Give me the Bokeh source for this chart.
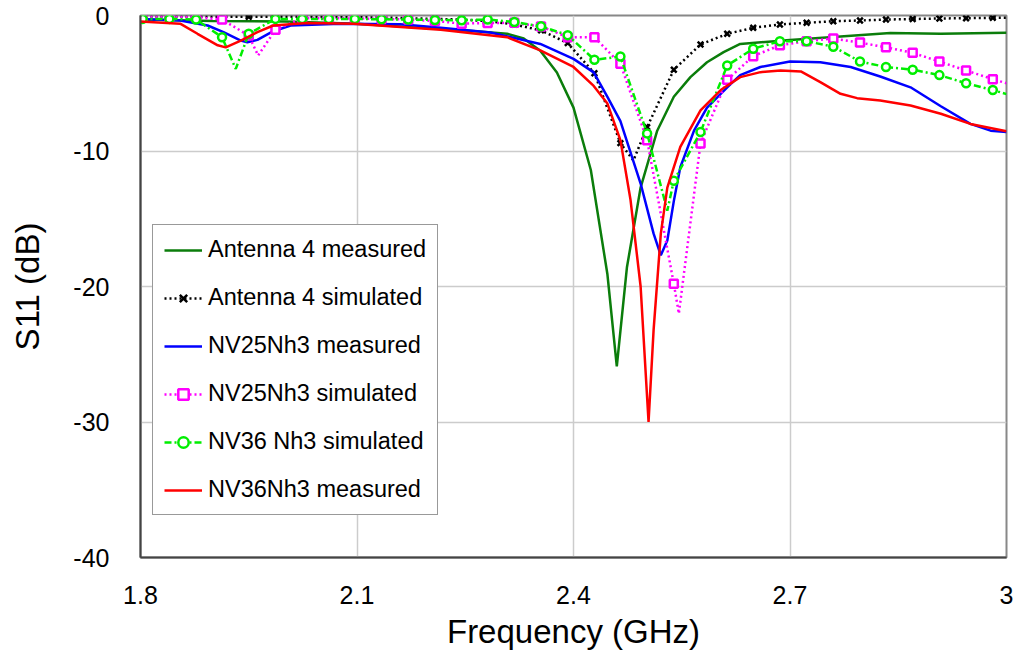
from bokeh.plotting import figure
from bokeh.models import Range1d, FixedTicker, Legend, LegendItem, CustomJSTickFormatter
from bokeh.embed import file_html
from bokeh.resources import INLINE

# ---------------- data ----------------
x_ticks = [1.8, 2.1, 2.4, 2.7, 3.0]
y_ticks = [-40, -30, -20, -10, 0]

series_names = ["Antenna 4 measured", "Antenna 4 simulated", "NV25Nh3 measured",
                "NV25Nh3 simulated", "NV36 Nh3 simulated", "NV36Nh3 measured"]

# measured curves
ant4_meas_freq = [1.80, 1.90, 2.00, 2.10, 2.20, 2.26, 2.308, 2.331, 2.354, 2.377, 2.400, 2.424,
                  2.447, 2.460, 2.474, 2.493, 2.516, 2.539, 2.562, 2.585, 2.608, 2.631, 2.700,
                  2.770, 2.839, 2.909, 3.000]
ant4_meas_db = [-0.3, -0.4, -0.45, -0.6, -0.95, -1.15, -1.35, -1.7, -2.6, -4.2, -6.8, -11.4,
                -19.1, -25.9, -18.6, -12.7, -8.5, -6.0, -4.55, -3.45, -2.7, -2.1, -1.8,
                -1.55, -1.3, -1.35, -1.28]

nv25_meas_freq = [1.80, 1.855, 1.893, 1.915, 1.939, 1.948, 1.962, 1.984, 2.008, 2.077,
                  2.16, 2.216, 2.285, 2.354, 2.40, 2.428, 2.447, 2.465, 2.493, 2.511,
                  2.521, 2.530, 2.539, 2.548, 2.567, 2.585, 2.613, 2.631, 2.659, 2.700,
                  2.742, 2.784, 2.825, 2.867, 2.909, 2.950, 2.978, 3.000]
nv25_meas_db = [-0.25, -0.37, -0.74, -1.23, -1.85, -1.97, -1.8, -1.16, -0.74, -0.6,
                -0.65, -0.9, -1.25, -2.1, -3.2, -4.2, -6.0, -7.8, -12.4, -16.1,
                -17.7, -16.6, -13.7, -11.2, -8.5, -6.8, -5.3, -4.4, -3.8, -3.4,
                -3.45, -3.8, -4.5, -5.3, -6.7, -8.0, -8.5, -8.6]

nv36_meas_freq = [1.80, 1.855, 1.879, 1.907, 1.918, 1.939, 1.962, 1.984, 2.031, 2.095,
                  2.216, 2.308, 2.354, 2.400, 2.428, 2.447, 2.465, 2.479, 2.493, 2.504,
                  2.511, 2.521, 2.530, 2.548, 2.576, 2.604, 2.631, 2.659, 2.687, 2.715,
                  2.742, 2.770, 2.793, 2.825, 2.867, 2.909, 2.950, 3.000]
nv36_meas_db = [-0.45, -0.6, -1.35, -2.2, -2.35, -1.85, -1.23, -0.74, -0.55, -0.6,
                -1.06, -1.6, -2.58, -3.8, -5.2, -6.5, -9.2, -13.6, -20.0, -30.0,
                -23.2, -16.1, -12.7, -9.7, -7.0, -5.5, -4.55, -4.18, -4.06, -4.13,
                -4.92, -5.78, -6.1, -6.27, -6.64, -7.25, -8.0, -8.54]

# simulated curves: values at marker frequencies + extra line-only points
sim_freq = [1.803, 1.840, 1.877, 1.913, 1.950, 1.987, 2.024, 2.061, 2.097, 2.134, 2.171,
            2.208, 2.245, 2.281, 2.318, 2.355, 2.392, 2.429, 2.465, 2.502, 2.539, 2.576,
            2.613, 2.649, 2.686, 2.723, 2.760, 2.797, 2.833, 2.870, 2.907, 2.944, 2.981]

ant4_sim_db = [-0.1, -0.1, -0.1, -0.1, -0.1, -0.1, -0.1, -0.12, -0.13, -0.15, -0.2,
               -0.25, -0.3, -0.42, -0.66, -1.1, -2.04, -4.26, -9.42, -8.24, -4.0, -2.14,
               -1.35, -0.91, -0.66, -0.54, -0.42, -0.37, -0.3, -0.26, -0.22, -0.2, -0.17]
ant4_sim_extra_freq = [1.80, 2.483, 3.0]
ant4_sim_extra_db = [-0.1, -10.7, -0.17]

nv25_sim_db = [-0.1, -0.1, -0.12, -0.3, -1.48, -1.06, -0.2, -0.2, -0.22, -0.25, -0.3,
               -0.4, -0.6, -0.55, -0.54, -0.81, -1.6, -1.6, -3.57, -9.2, -19.8, -9.45,
               -4.75, -3.0, -2.2, -1.9, -1.7, -2.0, -2.35, -2.75, -3.4, -4.06, -4.7]
nv25_sim_extra_freq = [1.80, 1.963, 2.546, 3.0]
nv25_sim_extra_db = [-0.1, -2.95, -22.0, -5.0]

nv36_sim_db = [-0.25, -0.25, -0.3, -1.6, -1.35, -0.25, -0.25, -0.25, -0.25, -0.28, -0.3,
               -0.33, -0.35, -0.3, -0.48, -0.8, -1.45, -3.27, -3.03, -8.7, -12.2, -8.6,
               -3.69, -2.45, -1.9, -1.9, -2.3, -3.4, -3.8, -4.0, -4.4, -5.0, -5.5]
nv36_sim_extra_freq = [1.80, 1.932, 2.530, 3.0]
nv36_sim_extra_db = [-0.25, -3.94, -14.4, -5.8]


def merged(fm, dm, fe, de):
    pts = sorted(list(zip(fm, dm)) + list(zip(fe, de)))
    return [a for a, _ in pts], [b for _, b in pts]


FONT = "Liberation Sans"

p = figure(width=1016, height=654, output_backend="svg", toolbar_location=None,
           x_range=Range1d(1.8, 3.0), y_range=Range1d(-40, 0),
           min_border_left=140, min_border_right=10, min_border_top=15, min_border_bottom=97)
p.background_fill_color = "white"
p.border_fill_color = "white"
p.outline_line_color = "#888888"
p.outline_line_width = 2

p.xaxis.ticker = FixedTicker(ticks=x_ticks)
p.yaxis.ticker = FixedTicker(ticks=y_ticks)
p.xaxis.formatter = CustomJSTickFormatter(code="return tick.toFixed(1).replace(/\\.0$/, '');")
p.yaxis.formatter = CustomJSTickFormatter(code="return tick.toFixed(0);")
p.xaxis.axis_label = "Frequency (GHz)"
p.yaxis.axis_label = "S11 (dB)"
for ax in (p.xaxis[0], p.yaxis[0]):
    ax.major_tick_out = 0
    ax.major_tick_in = 0
    ax.minor_tick_out = 0
    ax.minor_tick_in = 0
    ax.axis_line_color = "#444444"
    ax.axis_line_width = 2
    ax.major_label_text_font = FONT
    ax.major_label_text_font_size = "25px"
    ax.major_label_text_color = "black"
    ax.axis_label_text_font = FONT
    ax.axis_label_text_font_size = "33px"
    ax.axis_label_text_font_style = "normal"
    ax.axis_label_text_color = "black"
p.xaxis.major_label_standoff = 28
p.xaxis.axis_label_standoff = 6
p.yaxis.major_label_standoff = 31
p.yaxis.axis_label_standoff = 24

p.xgrid.ticker = FixedTicker(ticks=x_ticks)
p.ygrid.ticker = FixedTicker(ticks=y_ticks)
p.grid.grid_line_color = "#cccccc"
p.grid.grid_line_width = 1.5

# measured lines
r_ant4_m = p.line(ant4_meas_freq, ant4_meas_db, line_color="#0b7d0b", line_width=2.5)

ax_f, ax_d = merged(sim_freq, ant4_sim_db, ant4_sim_extra_freq, ant4_sim_extra_db)
r_ant4_s_l = p.line(ax_f, ax_d, line_color="black", line_width=2.5, line_dash="2 3")
r_ant4_s_m = p.scatter(sim_freq, ant4_sim_db, marker="x", size=8, line_color="black",
                       line_width=2.5)

r_nv25_m = p.line(nv25_meas_freq, nv25_meas_db, line_color="#0000ff", line_width=2.5)

n25_f, n25_d = merged(sim_freq, nv25_sim_db, nv25_sim_extra_freq, nv25_sim_extra_db)
r_nv25_s_l = p.line(n25_f, n25_d, line_color="#ff00ff", line_width=2.5, line_dash="2 3")
r_nv25_s_m = p.scatter(sim_freq, nv25_sim_db, marker="square", size=8, line_color="#ff00ff",
                       fill_color="white", line_width=2.5)

n36_f, n36_d = merged(sim_freq, nv36_sim_db, nv36_sim_extra_freq, nv36_sim_extra_db)
r_nv36_s_l = p.line(n36_f, n36_d, line_color="#00ee00", line_width=2.5, line_dash="7 3 2 3")
r_nv36_s_m = p.scatter(sim_freq, nv36_sim_db, marker="circle", size=8, line_color="#00ee00",
                       fill_color="white", line_width=2.5)

r_nv36_m = p.line(nv36_meas_freq, nv36_meas_db, line_color="#ff0000", line_width=2.5)

items = [
    LegendItem(label=series_names[0], renderers=[r_ant4_m]),
    LegendItem(label=series_names[1], renderers=[r_ant4_s_l, r_ant4_s_m]),
    LegendItem(label=series_names[2], renderers=[r_nv25_m]),
    LegendItem(label=series_names[3], renderers=[r_nv25_s_l, r_nv25_s_m]),
    LegendItem(label=series_names[4], renderers=[r_nv36_s_l, r_nv36_s_m]),
    LegendItem(label=series_names[5], renderers=[r_nv36_m]),
]
legend = Legend(items=items, location=(12, 42), margin=0, padding=11,
                spacing=21, label_height=26, glyph_height=26, glyph_width=38,
                label_standoff=6, label_text_font=FONT, label_text_font_size="23.5px",
                label_text_color="black", border_line_color="#333333",
                border_line_width=1.5, background_fill_color="white",
                background_fill_alpha=1.0)
p.add_layout(legend, "center")

open("out.html", "w").write(file_html(p, INLINE))
